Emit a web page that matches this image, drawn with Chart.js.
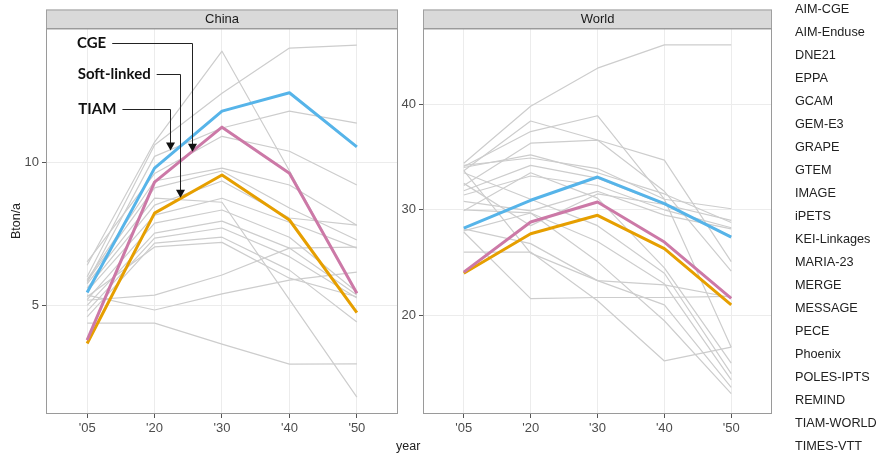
<!DOCTYPE html>
<html>
<head>
<meta charset="utf-8">
<title>CO2 emissions by model, China and World</title>
<script src="https://cdn.jsdelivr.net/npm/chart.js@4.4.1/dist/chart.umd.min.js"></script>
<style>
  html, body { margin: 0; padding: 0; background: #fff; }
  #wrap { position: relative; width: 879px; height: 454px; overflow: hidden;
          font-family: "Liberation Sans", Arial, sans-serif; }
  #chinaCanvas { position: absolute; left: 0; top: 0; }
  #worldCanvas { position: absolute; left: 400px; top: 0; }
  #legend { position: absolute; left: 795px; top: -2.5px; margin: 0; padding: 0;
            list-style: none; font-size: 12.7px; line-height: 23.05px; color: #222; }
  #xTitle { position: absolute; left: 396px; top: 439px; font-size: 12.5px; color: #222; }
</style>
</head>
<body>
<div id="wrap">
  <canvas id="chinaCanvas" width="405" height="454"></canvas>
  <canvas id="worldCanvas" width="380" height="454"></canvas>
  <div id="xTitle">year</div>
  <ul id="legend"></ul>
</div>
<script>
// Time points (equally spaced on the axis)
const yearLabels = ["'05", "'20", "'30", "'40", "'50"];

// Participating models
const modelNames = ["AIM-CGE", "AIM-Enduse", "DNE21", "EPPA", "GCAM", "GEM-E3", "GRAPE",
  "GTEM", "IMAGE", "iPETS", "KEI-Linkages", "MARIA-23", "MERGE", "MESSAGE", "PECE",
  "Phoenix", "POLES-IPTS", "REMIND", "TIAM-WORLD", "TIMES-VTT"];

// China, Bton/a — highlighted runs
const chinaTIAM       = [5.45, 9.79, 11.78, 12.42, 10.53];
const chinaCGE        = [3.79, 9.30, 11.22, 9.61, 5.42];
const chinaSoftLinked = [3.67, 8.22, 9.55, 7.98, 4.75];

// China, Bton/a — other model runs
const chinaOthers = [
  [6.40, 10.70, 13.87, 9.70, 5.40],
  [6.00, 10.60, 12.40, 13.98, 14.08],
  [5.80, 10.20, 11.19, 11.78, 11.36],
  [6.52, 9.60, 10.90, 10.38, 9.20],
  [5.90, 9.34, 9.79, 9.20, 7.80],
  [5.85, 9.10, 9.69, 8.40, 7.28],
  [5.75, 8.74, 8.60, 5.20, 1.80],
  [5.60, 8.50, 9.34, 8.05, 7.80],
  [5.50, 8.15, 8.74, 7.90, 7.00],
  [5.20, 7.87, 8.33, 7.38, 5.47],
  [5.00, 7.52, 7.94, 7.00, 5.36],
  [4.80, 7.35, 7.70, 6.70, 5.26],
  [4.60, 7.17, 7.38, 6.23, 4.42],
  [5.30, 7.04, 7.20, 5.95, 5.30],
  [5.18, 5.36, 6.06, 7.00, 7.03],
  [5.36, 4.84, 5.40, 5.88, 6.16],
  [4.38, 4.38, 3.65, 2.95, 2.96]
];

// World, Bton/a — highlighted runs
const worldTIAM       = [28.27, 30.90, 33.10, 30.59, 27.42];
const worldCGE        = [24.10, 28.84, 30.74, 26.95, 21.62];
const worldSoftLinked = [24.00, 27.74, 29.48, 26.32, 21.00];

// World, Bton/a — other model runs
const worldOthers = [
  [34.4, 39.8, 43.4, 45.6, 45.6],
  [33.7, 38.4, 36.6, 34.7, 25.1],
  [34.1, 37.4, 38.9, 31.0, 17.0],
  [32.3, 36.3, 36.6, 31.75, 24.2],
  [34.2, 34.9, 33.9, 31.0, 30.1],
  [31.8, 34.2, 33.0, 30.5, 29.0],
  [31.4, 33.2, 32.3, 30.0, 28.3],
  [30.8, 29.9, 31.75, 29.5, 28.2],
  [29.9, 33.5, 31.1, 24.5, 15.5],
  [28.0, 29.7, 27.0, 23.0, 13.9],
  [28.2, 26.8, 23.3, 21.0, 13.2],
  [26.0, 26.0, 21.4, 15.7, 17.0],
  [27.9, 21.6, 21.7, 21.7, 21.8],
  [33.7, 25.9, 23.3, 22.9, 21.7],
  [30.0, 29.7, 25.1, 19.5, 12.6],
  [32.5, 28.5, 31.5, 30.5, 27.5],
  [34.0, 35.2, 33.5, 31.5, 28.8],
  [33.5, 31.0, 28.5, 24.0, 14.5]
];

// Axis ticks per panel
const chinaTicks = [5, 10];
const worldTicks = [20, 30, 40];

const toPoints = vals => vals.map((v, i) => ({ x: i, y: v }));

// Value of a series at a fractional time index
function seriesAt(vals, x) {
  const i = Math.min(Math.floor(x), vals.length - 2);
  const t = x - i;
  return vals[i] + (vals[i + 1] - vals[i]) * t;
}

// Legend (text only)
const legendEl = document.getElementById('legend');
modelNames.forEach(n => {
  const li = document.createElement('li');
  li.textContent = n;
  legendEl.appendChild(li);
});

// Facet strip + panel border
const panelFrame = {
  id: 'panelFrame',
  afterDraw(chart, args, opts) {
    const { ctx, chartArea: a } = chart;
    ctx.save();
    const stripTop = 9.5;
    ctx.fillStyle = '#d9d9d9';
    ctx.fillRect(a.left, stripTop, a.right - a.left, a.top - stripTop);
    ctx.strokeStyle = '#a0a0a0';
    ctx.lineWidth = 1;
    ctx.strokeRect(Math.round(a.left) + 0.5, stripTop + 0.5,
                   Math.round(a.right - a.left) - 1, Math.round(a.top - stripTop));
    ctx.strokeStyle = '#9a9a9a';
    ctx.strokeRect(Math.round(a.left) + 0.5, Math.round(a.top) + 0.5,
                   Math.round(a.right - a.left) - 1, Math.round(a.bottom - a.top) - 1);
    ctx.fillStyle = '#1a1a1a';
    ctx.font = '13px "Liberation Sans", Arial, sans-serif';
    ctx.textAlign = 'center';
    ctx.textBaseline = 'middle';
    ctx.fillText(opts.title, (a.left + a.right) / 2, (stripTop + a.top) / 2 + 0.5);
    ctx.restore();
  }
};

// Labelled elbow arrows pointing at highlighted runs
const callouts = {
  id: 'callouts',
  afterDatasetsDraw(chart, args, opts) {
    if (!opts.items) return;
    const { ctx } = chart;
    const xs = chart.scales.x, ys = chart.scales.y;
    ctx.save();
    ctx.font = 'bold 15px Lato, "Open Sans", sans-serif';
    ctx.textBaseline = 'middle';
    ctx.textAlign = 'left';
    opts.items.forEach(it => {
      const tx = xs.getPixelForValue(it.textX);
      const ty = Math.round(ys.getPixelForValue(it.textY)) + 0.5;
      ctx.fillStyle = '#111';
      ctx.fillText(it.label, tx, ty);
      const w = ctx.measureText(it.label).width;
      const ex = Math.round(xs.getPixelForValue(it.elbowX)) + 0.5;
      const tipY = ys.getPixelForValue(seriesAt(it.series, it.elbowX)) - it.tipGap;
      ctx.strokeStyle = '#222';
      ctx.lineWidth = 1;
      ctx.beginPath();
      ctx.moveTo(tx + w + 6, ty);
      ctx.lineTo(ex, ty);
      ctx.lineTo(ex, tipY - 6);
      ctx.stroke();
      ctx.fillStyle = '#111';
      ctx.beginPath();
      ctx.moveTo(ex - 4.5, tipY - 8);
      ctx.lineTo(ex + 4.5, tipY - 8);
      ctx.lineTo(ex, tipY);
      ctx.closePath();
      ctx.fill();
    });
    ctx.restore();
  }
};

function buildDatasets(highlight, others) {
  const sets = [
    { data: toPoints(highlight.tiam), borderColor: '#56b4e9', borderWidth: 3, order: 0 },
    { data: toPoints(highlight.cge), borderColor: '#cc79a7', borderWidth: 3, order: 0 },
    { data: toPoints(highlight.soft), borderColor: '#e69f00', borderWidth: 3, order: 0 }
  ];
  others.forEach(r => sets.push({ data: toPoints(r), borderColor: '#cdcdcd', borderWidth: 1.2, order: 1 }));
  sets.forEach(s => { s.pointRadius = 0; s.tension = 0; s.fill = false; s.borderJoinStyle = 'round'; });
  return sets;
}

function makePanel(canvas, cfg) {
  const tickFont = { family: '"Liberation Sans", Arial, sans-serif', size: 13 };
  const titleFont = { family: '"Liberation Sans", Arial, sans-serif', size: 12.5 };
  return new Chart(canvas, {
    type: 'line',
    data: { datasets: buildDatasets(cfg.highlight, cfg.others) },
    plugins: [panelFrame, callouts],
    options: {
      responsive: false,
      animation: false,
      events: [],
      layout: { padding: { top: 28, right: cfg.padRight, left: 0, bottom: 0 } },
      plugins: {
        legend: { display: false },
        tooltip: { enabled: false },
        panelFrame: { title: cfg.title },
        callouts: { items: cfg.callouts || null }
      },
      scales: {
        x: {
          type: 'linear',
          min: -0.61, max: 4.61,
          afterBuildTicks: s => { s.ticks = yearLabels.map((_, i) => ({ value: i })); },
          afterFit: s => { s.height = 40; },
          ticks: { callback: v => yearLabels[v], autoSkip: false, maxRotation: 0,
                   color: '#4d4d4d', font: tickFont, padding: 3 },
          grid: { color: '#ececec', lineWidth: 1, tickLength: 4, tickColor: '#555' },
          border: { display: false }
        },
        y: {
          type: 'linear',
          min: cfg.yMin, max: cfg.yMax,
          afterBuildTicks: s => { s.ticks = cfg.yTicks.map(v => ({ value: v })); },
          afterFit: s => { s.width = cfg.axisWidth; },
          ticks: { color: '#4d4d4d', font: tickFont, padding: 3 },
          grid: { color: '#ececec', lineWidth: 1, tickLength: 4, tickColor: '#555' },
          border: { display: false },
          title: cfg.yTitle
            ? { display: true, text: cfg.yTitle, color: '#222', font: titleFont, padding: { top: 9, bottom: 0 } }
            : { display: false }
        }
      }
    }
  });
}

makePanel(document.getElementById('chinaCanvas'), {
  title: 'China',
  highlight: { tiam: chinaTIAM, cge: chinaCGE, soft: chinaSoftLinked },
  others: chinaOthers,
  yMin: 1.21, yMax: 14.68, yTicks: chinaTicks,
  axisWidth: 46, padRight: 7,
  yTitle: 'Bton/a',
  callouts: [
    { label: 'CGE',         textX: -0.15, textY: 14.15, elbowX: 1.555, series: chinaCGE,        tipGap: 0 },
    { label: 'Soft-linked', textX: -0.14, textY: 13.07, elbowX: 1.38,  series: chinaSoftLinked, tipGap: 1 },
    { label: 'TIAM',        textX: -0.13, textY: 11.87, elbowX: 1.222, series: chinaTIAM,       tipGap: 5 }
  ]
});

makePanel(document.getElementById('worldCanvas'), {
  title: 'World',
  highlight: { tiam: worldTIAM, cge: worldCGE, soft: worldSoftLinked },
  others: worldOthers,
  yMin: 10.68, yMax: 47.2, yTicks: worldTicks,
  axisWidth: 23, padRight: 8
});
</script>
</body>
</html>
